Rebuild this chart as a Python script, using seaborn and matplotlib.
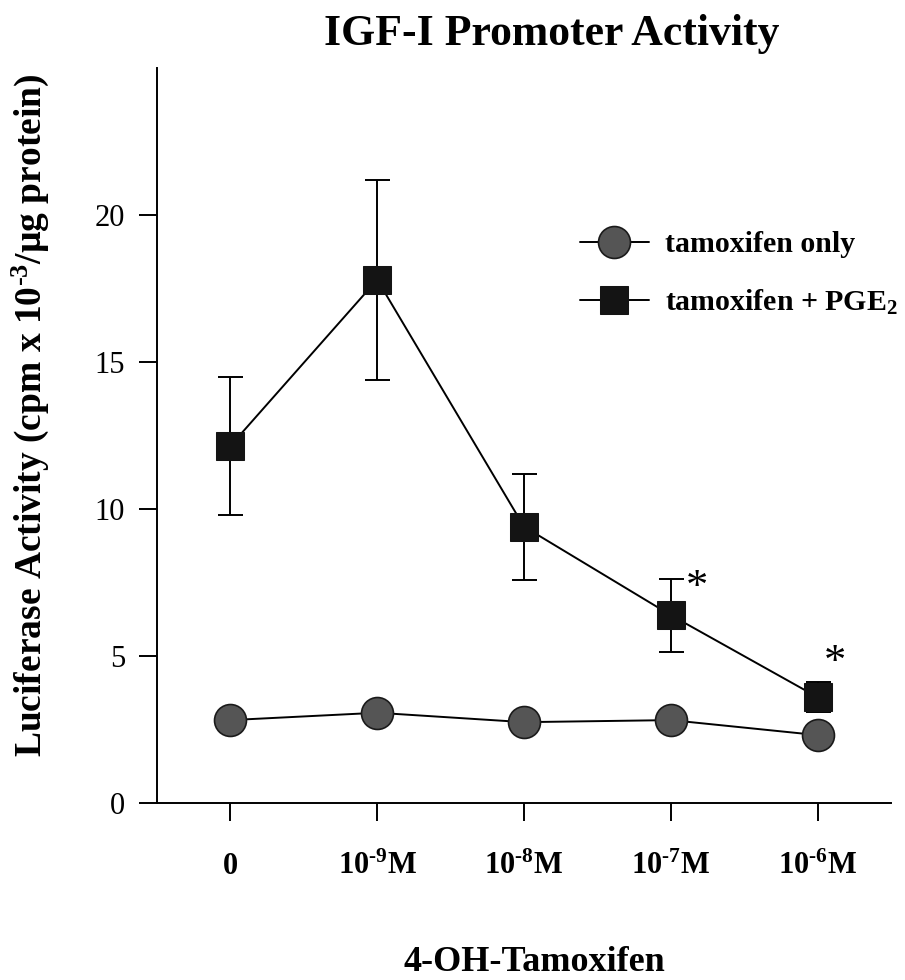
import numpy as np
import pandas as pd
import matplotlib
matplotlib.use("Agg")
import matplotlib.pyplot as plt
import seaborn as sns

# data
doses = ["0", "10$^{\u20109}$M", "10$^{\u20108}$M", "10$^{\u20107}$M", "10$^{\u20106}$M"]
tam_only = [2.82, 3.07, 2.75, 2.82, 2.31]
tam_pge2 = [12.15, 17.8, 9.4, 6.39, 3.6]
tam_pge2_err = [2.35, 3.4, 1.8, 1.24, 0.5]
# significance marks: (dose index, x offset, y position of the asterisk)
star_idx = [3, 4]
star_dx = [0.18, 0.12]
star_y = [7.3, 4.75]

sns.set_style("ticks")
plt.rcParams["font.family"] = ["Liberation Serif", "DejaVu Serif"]
plt.rcParams["mathtext.default"] = "regular"
plt.rcParams["text.color"] = "black"
plt.rcParams["xtick.color"] = "black"
plt.rcParams["ytick.color"] = "black"
plt.rcParams["axes.labelcolor"] = "black"
plt.rcParams["axes.edgecolor"] = "black"

pos = np.arange(len(doses))
df = pd.DataFrame({"pos": np.concatenate([pos, pos]),
                   "value": tam_only + tam_pge2,
                   "group": ["tamoxifen only"] * len(doses) + ["tamoxifen + PGE$_2$"] * len(doses)})

fig = plt.figure(figsize=(9.05, 9.8), dpi=100)
ax = fig.add_axes([0.1735, 0.1806, 0.8110, 0.7500])

# error bars for the PGE2 series (drawn behind markers)
ax.errorbar(pos, tam_pge2, yerr=tam_pge2_err, fmt="none", ecolor="black",
            elinewidth=1.4, capsize=9, capthick=1.4, zorder=1)

sns.lineplot(data=df[df.group == "tamoxifen only"], x="pos", y="value", ax=ax,
             color="black", lw=1.4, marker="o", markersize=23,
             markerfacecolor="#555555", markeredgecolor="#1a1a1a", markeredgewidth=1.2,
             label="tamoxifen only", zorder=3)
sns.lineplot(data=df[df.group != "tamoxifen only"], x="pos", y="value", ax=ax,
             color="black", lw=1.4, marker="s", markersize=20,
             markerfacecolor="#141414", markeredgecolor="#141414",
             label="tamoxifen + PGE$_2$", zorder=3)

for i, dx, y in zip(star_idx, star_dx, star_y):
    ax.text(pos[i] + dx, y, "*", fontsize=32, ha="center", va="center")

ax.set_xlim(-0.5, len(doses) - 0.5)
ax.set_ylim(0, 25)
ax.set_xticks(pos)
ax.set_xticklabels(doses, fontsize=22, fontweight="bold")
ax.set_yticks([0, 5, 10, 15, 20])
ax.set_yticklabels(["0", "5", "10", "15", "20"], fontsize=22)
ax.tick_params(axis="both", direction="out", length=13, width=1.4)
ax.tick_params(axis="x", pad=22)
ax.tick_params(axis="y", pad=10)
for sp in ["top", "right"]:
    ax.spines[sp].set_visible(False)
for sp in ["left", "bottom"]:
    ax.spines[sp].set_linewidth(1.4)

ax.set_xlabel("")
ax.set_ylabel("Luciferase Activity (cpm x 10$^{\u20103}$/µg protein)", fontsize=27,
              fontweight="bold")
ax.yaxis.set_label_coords(-0.145, 0.528)

fig.text(0.61, 1 - 34 / 980, "IGF-I Promoter Activity", fontsize=31.5, fontweight="bold",
         ha="center", va="center")
fig.text(0.59, 1 - 962 / 980, "4-OH-Tamoxifen", fontsize=26, fontweight="bold",
         ha="center", va="center")

ax.legend(loc="upper left", bbox_to_anchor=(580 / 905, 1 - 231 / 980),
          bbox_transform=fig.transFigure, frameon=False, borderpad=0, borderaxespad=0,
          handlelength=2.3, handletextpad=0.55, labelspacing=1.0,
          prop={"size": 21.5, "weight": "bold"})

fig.savefig("out.png", dpi=100)
